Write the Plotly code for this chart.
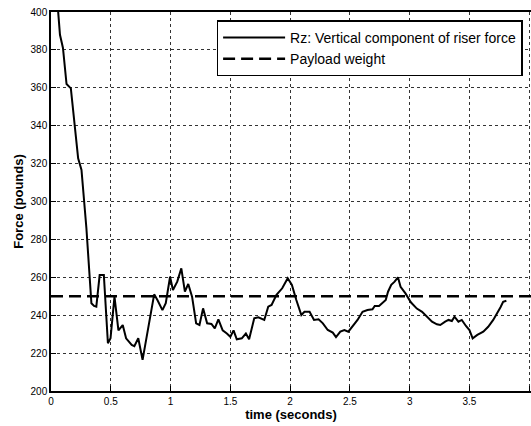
import plotly.graph_objects as go

# Rz: vertical component of riser force
time_s = [0.055, 0.061, 0.075, 0.10, 0.13, 0.166, 0.20, 0.227, 0.255, 0.296,
          0.338, 0.36, 0.379, 0.407, 0.442, 0.476, 0.498, 0.531, 0.564, 0.60,
          0.628, 0.675, 0.697, 0.73, 0.766, 0.82, 0.863, 0.89, 0.932, 0.96,
          0.996, 1.02, 1.056, 1.09, 1.12, 1.148, 1.18, 1.214, 1.242, 1.272,
          1.306, 1.342, 1.37, 1.40, 1.436, 1.471, 1.50, 1.527, 1.554, 1.596,
          1.63, 1.657, 1.70, 1.734, 1.784, 1.817, 1.845, 1.886, 1.934, 1.98,
          2.015, 2.052, 2.094, 2.12, 2.163, 2.20, 2.238, 2.274, 2.315, 2.357,
          2.384, 2.42, 2.454, 2.487, 2.523, 2.564, 2.606, 2.647, 2.689, 2.708,
          2.744, 2.772, 2.80, 2.819, 2.846, 2.874, 2.902, 2.924, 2.965, 3.01,
          3.06, 3.104, 3.145, 3.187, 3.228, 3.256, 3.297, 3.325, 3.353, 3.375,
          3.408, 3.436, 3.471, 3.50, 3.527, 3.566, 3.616, 3.657, 3.699, 3.732,
          3.76, 3.782, 3.809]
rz_force = [404, 400, 388, 381, 362, 359.7, 340.4, 322.8, 316.6, 286,
            246.3, 244.9, 244.5, 261.2, 261.2, 225.2, 227.8, 249.8, 232, 234.8,
            227.8, 224.3, 223.7, 227.8, 216.4, 235.7, 251, 248, 242.7, 246.3,
            260.3, 253.3, 257.7, 264.7, 252.4, 256.5, 249.8, 235.7, 234.8, 243.6,
            235.7, 235.4, 233.1, 237.8, 232, 230.3, 228.6, 232, 227.3, 227.8,
            230.3, 227.3, 238.4, 238.9, 237.5, 244.5, 245.4, 250.7, 254.2, 259.5,
            256, 248, 240.1, 241.8, 241.8, 237.5, 237.8, 235.7, 232.2, 230.8,
            228.4, 231.3, 232.2, 231.3, 234.3, 237.5, 241.8, 242.7, 243.1, 244.9,
            244.9, 246.3, 248, 252.4, 256, 257.7, 260, 255, 251.5, 246.8,
            243.5, 241.8, 239.2, 236.6, 235.2, 234.8, 236.6, 237.5, 236.9, 239.2,
            236.6, 237.5, 234.3, 232.2, 227.8, 229.6, 231.3, 233.9, 237.5, 241,
            244.2, 247.1, 247.6]

# Payload weight
payload_time = [0, 4.02]
payload_weight = [250, 250]

x_ticks = [0, 0.5, 1, 1.5, 2, 2.5, 3, 3.5, 4]
x_tick_text = ["0", "0.5", "1", "1.5", "2", "2.5", "3", "3.5", "4"]
y_ticks = [200, 220, 240, 260, 280, 300, 320, 340, 360, 380, 400]

font_family = "Liberation Sans, Arial, Helvetica, sans-serif"

fig = go.Figure()
fig.add_trace(go.Scatter(
    x=time_s, y=rz_force, mode="lines",
    name="Rz: Vertical component of riser force",
    line=dict(color="black", width=2),
))
fig.add_trace(go.Scatter(
    x=payload_time, y=payload_weight, mode="lines",
    name="Payload weight",
    line=dict(color="black", width=2.5, dash="12px,6px"),
))

fig.update_layout(
    width=531, height=426,
    margin=dict(l=51, r=0, t=12, b=35),
    paper_bgcolor="white", plot_bgcolor="white",
    font=dict(family=font_family, color="black", size=10),
    showlegend=True,
    legend=dict(
        x=0.345, y=0.978, xanchor="left", yanchor="top",
        bgcolor="white", bordercolor="black", borderwidth=1.5,
        font=dict(size=14, family=font_family),
        tracegroupgap=0, itemwidth=62,
    ),
)

fig.update_xaxes(
    range=[0, 4.015], tickvals=x_ticks, ticktext=x_tick_text,
    showline=True, linecolor="black", linewidth=1.5, mirror=True,
    ticks="inside", ticklen=5, tickcolor="black",
    showgrid=True, gridcolor="#333", griddash="dot", gridwidth=1,
    zeroline=False,
    title=dict(text="<b>time (seconds)</b>", font=dict(size=13), standoff=2),
    tickfont=dict(size=10),
)
fig.update_yaxes(
    range=[200, 400], tickvals=y_ticks,
    showline=True, linecolor="black", linewidth=1.5, mirror=False,
    ticks="inside", ticklen=5, tickcolor="black",
    showgrid=True, gridcolor="#333", griddash="dot", gridwidth=1,
    zeroline=False,
    title=dict(text="<b>Force (pounds)</b>", font=dict(size=13), standoff=4),
    tickfont=dict(size=10),
)

fig.write_html("out.html")
